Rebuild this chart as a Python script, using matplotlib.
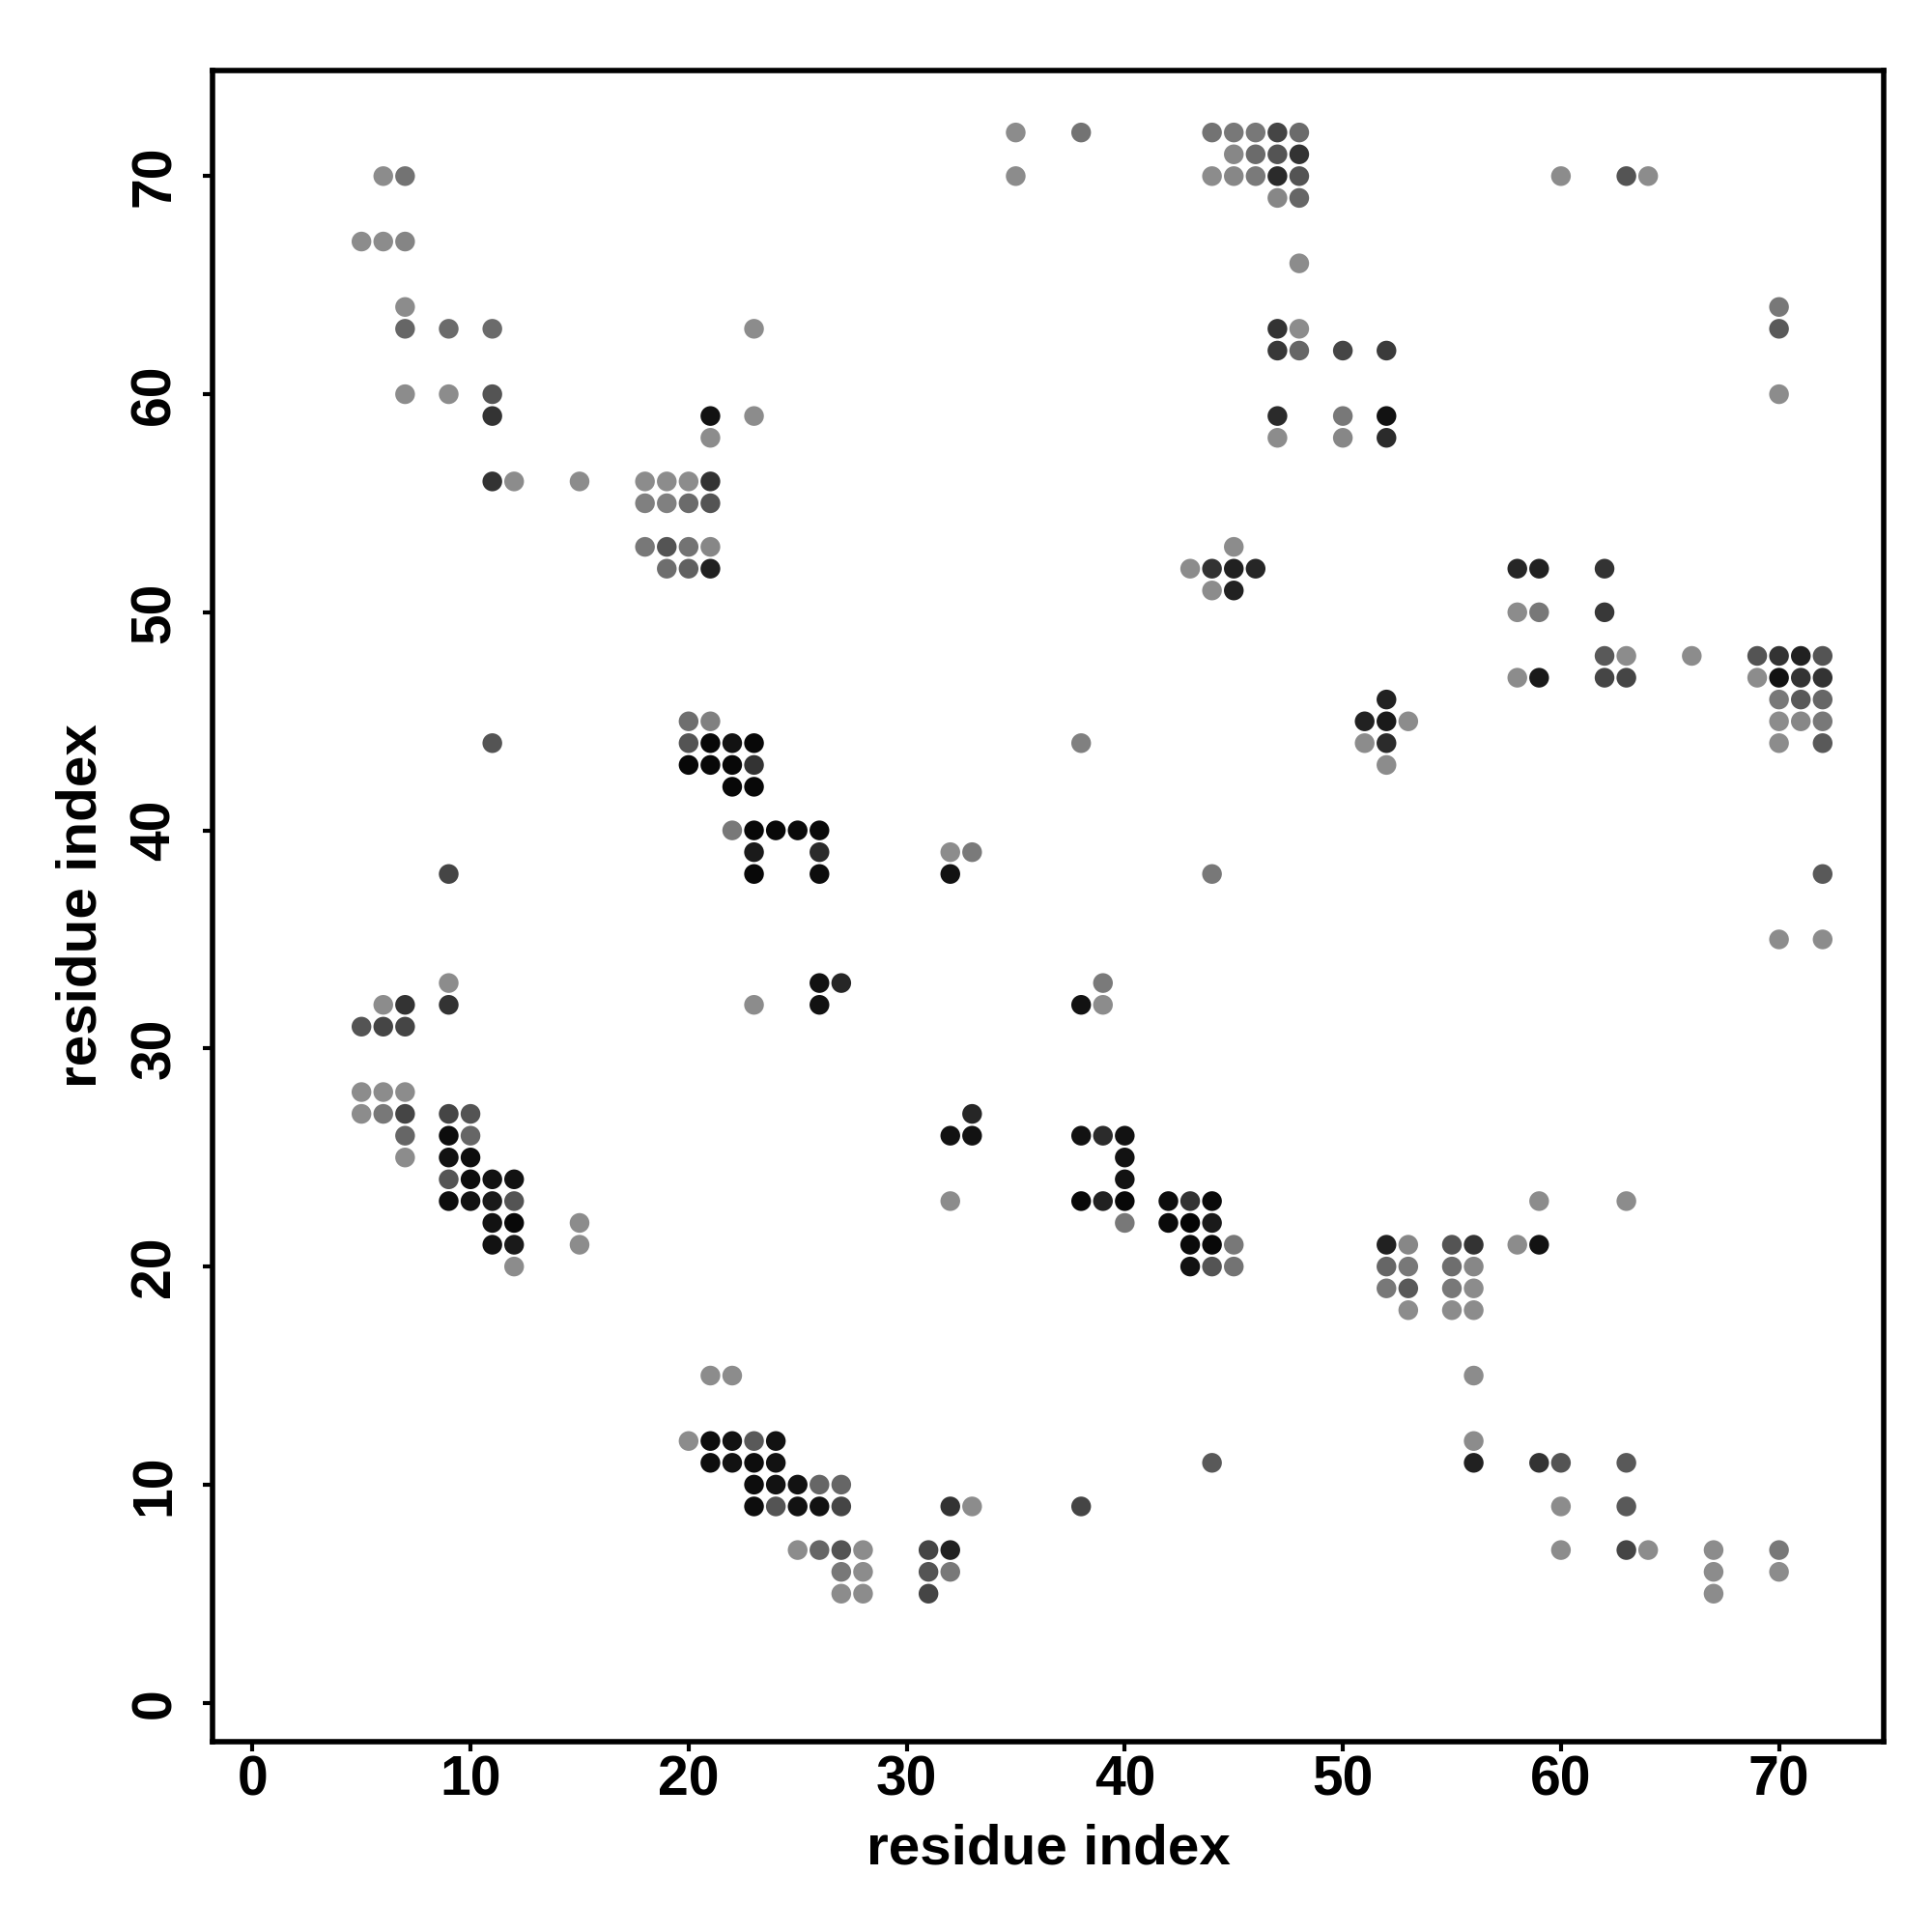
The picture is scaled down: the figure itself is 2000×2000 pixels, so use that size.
import matplotlib
matplotlib.use('Agg')
import matplotlib.pyplot as plt

# contact map points: residue i (x), residue j (y), grey level of the dot (0 = black)
res_x = (
    [6, 7, 5, 6, 7]
    + [7, 7, 9, 11, 7, 9, 11, 11]
    + [11, 12, 15, 18, 19, 20, 21]
    + [18, 19, 20, 21, 18, 19, 20, 21, 19, 20, 21]
    + [21, 21, 23, 23, 35, 35, 38]
    + [44, 45, 46, 47, 48, 45, 46, 47, 48]
    + [44, 45, 46, 47, 48, 47, 48, 48]
    + [47, 48, 47, 48, 50, 52]
    + [47, 50, 52, 47, 50, 52]
    + [60, 63, 64, 70, 70, 70]
    + [45, 43, 44, 45, 46, 44, 45]
    + [58, 59, 58, 59, 58, 59]
    + [62, 62, 62, 63, 62, 63, 66]
    + [69, 70, 71, 72, 69, 70, 71, 72]
    + [70, 71, 72, 70, 71, 72, 70, 72]
    + [72, 70, 72]
    + [52, 51, 52, 53, 51, 52, 52]
    + [38, 11, 9, 44]
    + [20, 21, 20, 21, 22, 23, 20, 21, 22, 23, 22, 23]
    + [22, 23, 24, 25, 26, 23, 26, 23, 26]
    + [32, 33, 32]
    + [9, 9, 6, 7, 5, 6, 7]
    + [23, 26, 27, 26, 38, 39, 39]
    + [5, 6, 7, 5, 6, 7, 7, 7]
    + [9, 9, 9, 9, 9, 10, 10, 10, 10, 10]
    + [11, 11, 11, 11, 12, 12, 12, 12, 12, 15, 15]
    + [32, 33, 33, 32]
    + [38, 39, 40, 40, 40, 38, 39, 40, 40]
    + [42, 43, 44, 42, 43, 44]
    + [43, 44, 45, 43, 44, 45]
    + [52, 53, 52, 53, 52, 53, 53]
    + [55, 55, 55, 55, 56, 56, 56, 56]
    + [56, 56, 56, 58, 59, 59, 63]
    + [59, 60, 60, 60, 63, 63, 63, 64]
    + [67, 67, 67, 70, 70, 44, 38]
    + [21, 22, 20, 21, 22, 23, 24]
    + [21, 22, 23, 24, 23, 24, 25, 26, 27]
    + [23, 24, 25, 26, 27]
    + [25, 26, 27, 28, 27, 28, 27, 28]
    + [31, 32, 31, 32, 31, 32, 33]
)

res_y = (
    [70, 70, 67, 67, 67]
    + [64, 63, 63, 63, 60, 60, 60, 59]
    + [56, 56, 56, 56, 56, 56, 56]
    + [55, 55, 55, 55, 53, 53, 53, 53, 52, 52, 52]
    + [59, 58, 63, 59, 72, 70, 72]
    + [72, 72, 72, 72, 72, 71, 71, 71, 71]
    + [70, 70, 70, 70, 70, 69, 69, 66]
    + [63, 63, 62, 62, 62, 62]
    + [59, 59, 59, 58, 58, 58]
    + [70, 70, 70, 64, 63, 60]
    + [53, 52, 52, 52, 52, 51, 51]
    + [52, 52, 50, 50, 47, 47]
    + [52, 50, 48, 48, 47, 47, 48]
    + [48, 48, 48, 48, 47, 47, 47, 47]
    + [46, 46, 46, 45, 45, 45, 44, 44]
    + [38, 35, 35]
    + [46, 45, 45, 45, 44, 44, 43]
    + [44, 44, 38, 38]
    + [45, 45, 44, 44, 44, 44, 43, 43, 43, 43, 42, 42]
    + [40, 40, 40, 40, 40, 39, 39, 38, 38]
    + [39, 39, 38]
    + [33, 32, 32, 32, 31, 31, 31]
    + [32, 33, 33, 32, 32, 33, 32]
    + [28, 28, 28, 27, 27, 27, 26, 25]
    + [27, 26, 25, 24, 23, 27, 26, 25, 24, 23]
    + [24, 23, 22, 21, 24, 23, 22, 21, 20, 22, 21]
    + [26, 26, 27, 23]
    + [26, 26, 26, 25, 24, 23, 23, 23, 22]
    + [23, 23, 23, 22, 22, 22]
    + [21, 21, 21, 20, 20, 20]
    + [21, 21, 20, 20, 19, 19, 18]
    + [21, 20, 19, 18, 21, 20, 19, 18]
    + [15, 12, 11, 21, 21, 23, 23]
    + [11, 11, 9, 7, 11, 9, 7, 7]
    + [7, 6, 5, 7, 6, 11, 9]
    + [15, 15, 12, 12, 12, 12, 12]
    + [11, 11, 11, 11, 10, 10, 10, 10, 10]
    + [9, 9, 9, 9, 9]
    + [7, 7, 7, 7, 6, 6, 5, 5]
    + [7, 7, 6, 6, 5, 9, 9]
)

shade = (
    [.55, .45, .55, .55, .52]
    + [.55, .4, .42, .42, .55, .55, .33, .2]
    + [.2, .55, .55, .55, .55, .55, .2]
    + [.5, .5, .42, .33, .47, .33, .45, .53, .43, .38, .13]
    + [.07, .55, .55, .55, .55, .55, .45]
    + [.45, .47, .47, .27, .42, .53, .42, .33, .2]
    + [.55, .53, .48, .17, .33, .53, .4, .55]
    + [.2, .55, .22, .4, .27, .23]
    + [.17, .47, .07, .55, .53, .17]
    + [.55, .33, .55, .47, .35, .55]
    + [.55, .55, .2, .13, .15, .55, .13]
    + [.15, .13, .55, .47, .55, .1]
    + [.2, .22, .35, .55, .27, .27, .55]
    + [.33, .2, .13, .33, .55, .07, .2, .2]
    + [.47, .35, .4, .55, .53, .47, .55, .35]
    + [.35, .55, .55]
    + [.13, .13, .1, .55, .55, .17, .55]
    + [.5, .33, .27, .47]
    + [.43, .5, .33, .03, .07, .03, .03, .03, .03, .2, .03, .03]
    + [.47, .03, .03, .04, .04, .1, .17, .03, .05]
    + [.55, .48, .07]
    + [.55, .2, .55, .2, .33, .27, .27]
    + [.55, .07, .15, .07, .07, .48, .55]
    + [.55, .55, .55, .55, .47, .27, .4, .55]
    + [.27, .05, .07, .33, .05, .33, .4, .05, .05, .07]
    + [.07, .1, .07, .07, .07, .33, .03, .1, .55, .55, .55]
    + [.07, .07, .15, .55]
    + [.07, .17, .07, .07, .07, .03, .13, .03, .47]
    + [.05, .2, .04, .04, .02, .1]
    + [.04, .03, .47, .07, .33, .45]
    + [.13, .53, .4, .47, .47, .35, .55]
    + [.33, .43, .47, .55, .2, .53, .55, .55]
    + [.55, .55, .13, .55, .07, .55, .55]
    + [.2, .33, .55, .55, .35, .35, .27, .55]
    + [.55, .55, .55, .47, .55, .35, .27]
    + [.55, .55, .55, .05, .07, .35, .07]
    + [.05, .07, .05, .07, .05, .07, .07, .4, .4]
    + [.05, .33, .07, .07, .27]
    + [.55, .4, .33, .55, .47, .55, .55, .55]
    + [.27, .13, .33, .47, .27, .2, .55]
)

tick_vals = [0, 10, 20, 30, 40, 50, 60, 70]

plt.rcParams['font.family'] = ['Liberation Sans', 'DejaVu Sans']
plt.rcParams['font.weight'] = 'bold'

fig = plt.figure(figsize=(10, 10), dpi=200)
ax = fig.add_axes([0.110, 0.0987, 0.865, 0.865])

colors = [str(s) for s in shade]
ax.scatter(res_x, res_y, s=54, c=colors, edgecolors='none')

ax.set_xlim(-1.83, 74.8)
ax.set_ylim(-1.77, 74.86)
ax.set_xticks(tick_vals)
ax.set_yticks(tick_vals)
ax.set_xticklabels([str(t) for t in tick_vals], fontsize=20.5, fontweight='bold')
ax.set_yticklabels([str(t) for t in tick_vals], fontsize=20.5, fontweight='bold',
                   rotation=90, va='center')
ax.tick_params(axis='both', direction='out', length=3.6, width=1.5)
ax.tick_params(axis='x', pad=1.5)
ax.tick_params(axis='y', pad=8)
for sp in ax.spines.values():
    sp.set_linewidth(2.0)

ax.set_xlabel('residue index', fontsize=21, fontweight='bold', labelpad=6)
ax.set_ylabel('residue index', fontsize=21, fontweight='bold', labelpad=8)

fig.savefig('out.png', dpi=200, facecolor='white')
